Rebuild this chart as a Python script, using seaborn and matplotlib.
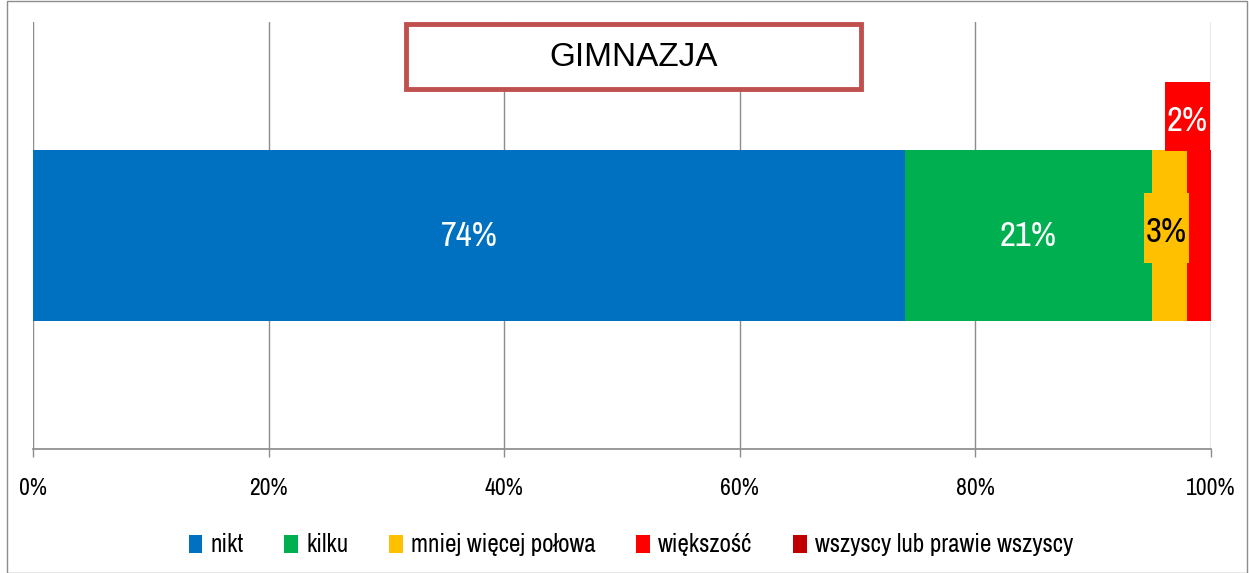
import matplotlib
matplotlib.use("Agg")
import matplotlib.pyplot as plt
import matplotlib.patches as mpatches
import seaborn as sns
import pandas as pd
import numpy as np

categories = ["nikt", "kilku", "mniej więcej połowa", "większość", "wszyscy lub prawie wszyscy"]
values = [74, 21, 3, 2, 0]
colors = ["#0070C0", "#00B050", "#FFC000", "#FF0000", "#C00000"]
value_labels = ["74%", "21%", "3%", "2%", ""]
group = ["GIMNAZJA"]
xticks = [0, 20, 40, 60, 80, 100]
xtick_labels = ["0%", "20%", "40%", "60%", "80%", "100%"]

sns.set_theme(style="white")
NARROW = ["Archivo Narrow", "DejaVu Sans"]
plt.rcParams["font.family"] = NARROW
plt.rcParams["text.color"] = "black"

fig = plt.figure(figsize=(12.49, 5.73), dpi=100)
ax = fig.add_axes([33 / 1249, 1 - 449 / 573, (1211 - 33) / 1249, (449 - 22) / 573])

cum = np.cumsum(values)
# draw from the largest cumulative value to the smallest so segments stack
for i in range(len(values) - 1, -1, -1):
    df = pd.DataFrame({"grupa": group, "wartosc": [cum[i]]})
    sns.barplot(data=df, x="wartosc", y="grupa", orient="h", color=colors[i],
                saturation=1, width=0.4, ax=ax, zorder=2, edgecolor="none")

ax.set_xlim(0, 100)
ax.set_ylim(0.5, -0.5)
ax.set_xticks(xticks)
ax.set_xticklabels(xtick_labels, fontsize=17)
ax.set_yticks([])
ax.set_xlabel("")
ax.set_ylabel("")
ax.grid(axis="x", color="#8C8C8C", linewidth=1, zorder=0)
for s in ["top", "right", "left"]:
    ax.spines[s].set_visible(False)
ax.spines["bottom"].set_color("#8C8C8C")
ax.tick_params(axis="x", which="both", bottom=True, length=6, color="#8C8C8C",
               width=1, pad=15, labelcolor="black")

starts = cum - np.array(values)
centers = starts + np.array(values) / 2
# 74% and 21%
ax.text(centers[0], 0.0, value_labels[0], ha="center", va="center", color="white", fontsize=25, zorder=5)
ax.text(centers[1], 0.0, value_labels[1], ha="center", va="center", color="white", fontsize=25, zorder=5)

# 3% on a yellow box, 2% on a red box above the bar
box_w, box_h = 3.85, 0.163
for idx, (cx, cy, tc) in zip([2, 3], [(centers[2] - 0.3, -0.0175, "black"), (centers[3] - 1.0, -0.279, "white")]):
    ax.add_patch(mpatches.Rectangle((cx - box_w / 2, cy - box_h / 2), box_w, box_h,
                                    facecolor=colors[idx], edgecolor="none", zorder=4, clip_on=False))
    ax.text(cx, cy + 0.01, value_labels[idx], ha="center", va="center", color=tc, fontsize=25, zorder=5)

# title box
fig.patches.append(mpatches.Rectangle((406 / 1249, 1 - 89 / 573), (861 - 406) / 1249, (89 - 24) / 573,
                                      transform=fig.transFigure, facecolor="white",
                                      edgecolor="#C0504D", linewidth=3.5, zorder=10))
fig.text(634 / 1249, 1 - 58 / 573, group[0], ha="center", va="center", fontsize=24,
         family=["Liberation Sans", "DejaVu Sans"], color="black", zorder=11)

# outer frame
fig.patches.append(mpatches.Rectangle((7 / 1249, 0.5 / 573), (1247 - 7) / 1249, (572 - 0.5) / 573,
                                      transform=fig.transFigure, facecolor="none",
                                      edgecolor="#8C8C8C", linewidth=1, zorder=0))

handles = [mpatches.Patch(facecolor=c, edgecolor="none", label=l) for c, l in zip(colors, categories)]
leg = fig.legend(handles=handles, loc="center", bbox_to_anchor=(631 / 1249, 1 - 545 / 573), ncol=5,
                 frameon=False, fontsize=18, handlelength=0.55, handleheight=0.75, handletextpad=0.35,
                 columnspacing=1.6)
for t in leg.get_texts():
    t.set_color("black")

fig.savefig("out.png", dpi=100)
